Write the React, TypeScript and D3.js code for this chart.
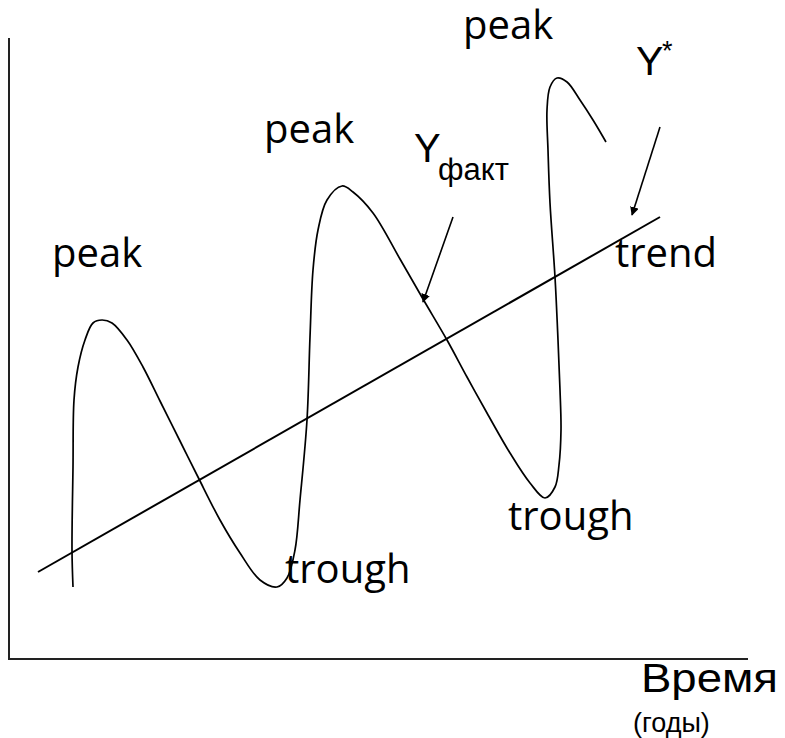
import React from 'react';
import * as d3 from 'd3';

// business cycle curve: time (years) and output level
const cycleTime = [
  6.4, 6.3, 6.4, 6.5, 6.9, 7.6, 8.4, 9.3, 10.3, 11.8, 13.4, 15.1, 17.1, 18.9,
  21.1, 23.1, 25.1, 26.8, 27.8, 28.6, 29.1, 29.8, 30.1, 30.4, 30.9, 31.8, 33.3,
  34.4, 36.4, 39.1, 41.4, 43.8, 45.8, 47.8, 50.1, 52.1, 53.6, 54.6, 55.0, 55.2,
  55.1, 54.9, 54.6, 54.1, 53.9, 53.8, 54.1, 54.8, 55.8, 57.1, 58.4, 59.7,
];
const cycleLevel = [
  7.2, 10.9, 19.2, 25.9, 29.2, 31.9, 33.6, 33.9, 33.6, 31.9, 29.2, 25.8, 21.8,
  18.2, 13.9, 10.6, 7.9, 7.2, 8.1, 10.9, 15.9, 23.9, 32.2, 38.9, 42.9, 45.9,
  47.3, 46.7, 44.6, 40.0, 36.0, 31.9, 28.2, 24.6, 20.6, 17.6, 16.1, 17.2, 19.4,
  22.9, 26.9, 31.9, 38.2, 45.6, 50.9, 54.9, 57.2, 58.1, 57.7, 55.9, 53.9, 51.7,
];

// trend line end points
const trendTime = [2.9, 65.1];
const trendLevel = [8.7, 44.2];

// pointer arrows: [from, to] as [time, level]
const factArrow = [[44.4, 44.2], [41.4, 35.7]];
const starArrow = [[65.1, 53.2], [62.3, 44.4]];

const peakLabels = ['peak', 'peak', 'peak'];
const troughLabels = ['trough', 'trough'];

export default function App() {
  const width = 785;
  const height = 738;

  const x = d3.scaleLinear().domain([0, 74]).range([9, 749]);
  const y = d3.scaleLinear().domain([0, 62]).range([659, 39]);

  const pts: [number, number][] = cycleTime.map((t, i) => [t, cycleLevel[i]]);
  const line = d3
    .line<[number, number]>()
    .x((d) => x(d[0]))
    .y((d) => y(d[1]))
    .curve(d3.curveCatmullRom.alpha(0.5));

  const calibri = "'Open Sans', 'Noto Sans', sans-serif";
  const arial = "'Liberation Sans', Arial, sans-serif";

  return (
    <svg
      width={width}
      height={height}
      style={{ position: 'absolute', left: 0, top: 0, background: '#fff' }}
    >
      <defs>
        <marker
          id="head"
          viewBox="0 0 10 10"
          refX="9"
          refY="5"
          markerWidth="5.5"
          markerHeight="5.5"
          orient="auto"
        >
          <path d="M0,0 L10,5 L0,10 z" fill="#000" />
        </marker>
      </defs>

      {/* axes */}
      <line x1={x(0)} x2={x(0)} y1={y(62.1)} y2={y(0) + 1} stroke="#222" strokeWidth={2} />
      <line x1={x(0)} x2={x(73.9)} y1={y(0)} y2={y(0)} stroke="#222" strokeWidth={2} />

      {/* trend */}
      <line
        x1={x(trendTime[0])}
        y1={y(trendLevel[0])}
        x2={x(trendTime[1])}
        y2={y(trendLevel[1])}
        stroke="#000"
        strokeWidth={2}
      />

      {/* actual series */}
      <path d={line(pts) || ''} fill="none" stroke="#000" strokeWidth={1.7} />

      {/* arrows */}
      {[factArrow, starArrow].map((a, i) => (
        <line
          key={i}
          x1={x(a[0][0])}
          y1={y(a[0][1])}
          x2={x(a[1][0])}
          y2={y(a[1][1])}
          stroke="#000"
          strokeWidth={1.6}
          markerEnd="url(#head)"
        />
      ))}

      {/* labels */}
      <g fontFamily={calibri} fontSize={40} fill="#000">
        <text x={52} y={267}>{peakLabels[0]}</text>
        <text x={264} y={143}>{peakLabels[1]}</text>
        <text x={463} y={39}>{peakLabels[2]}</text>
        <text x={285} y={583}>{troughLabels[0]}</text>
        <text x={508} y={530}>{troughLabels[1]}</text>
        <text x={615} y={267}>trend</text>
      </g>

      <g fontFamily={arial} fill="#000">
        <text x={414} y={162} fontSize={40}>Y</text>
        <text x={438} y={180} fontSize={31}>факт</text>
        <text x={636} y={75} fontSize={41}>Y</text>
        <text x={662} y={60} fontSize={27}>*</text>
        <text x={641} y={692} fontSize={40} textLength={137} lengthAdjust="spacingAndGlyphs">
          Время
        </text>
        <text x={633} y={732} fontSize={27}>(годы)</text>
      </g>
    </svg>
  );
}
